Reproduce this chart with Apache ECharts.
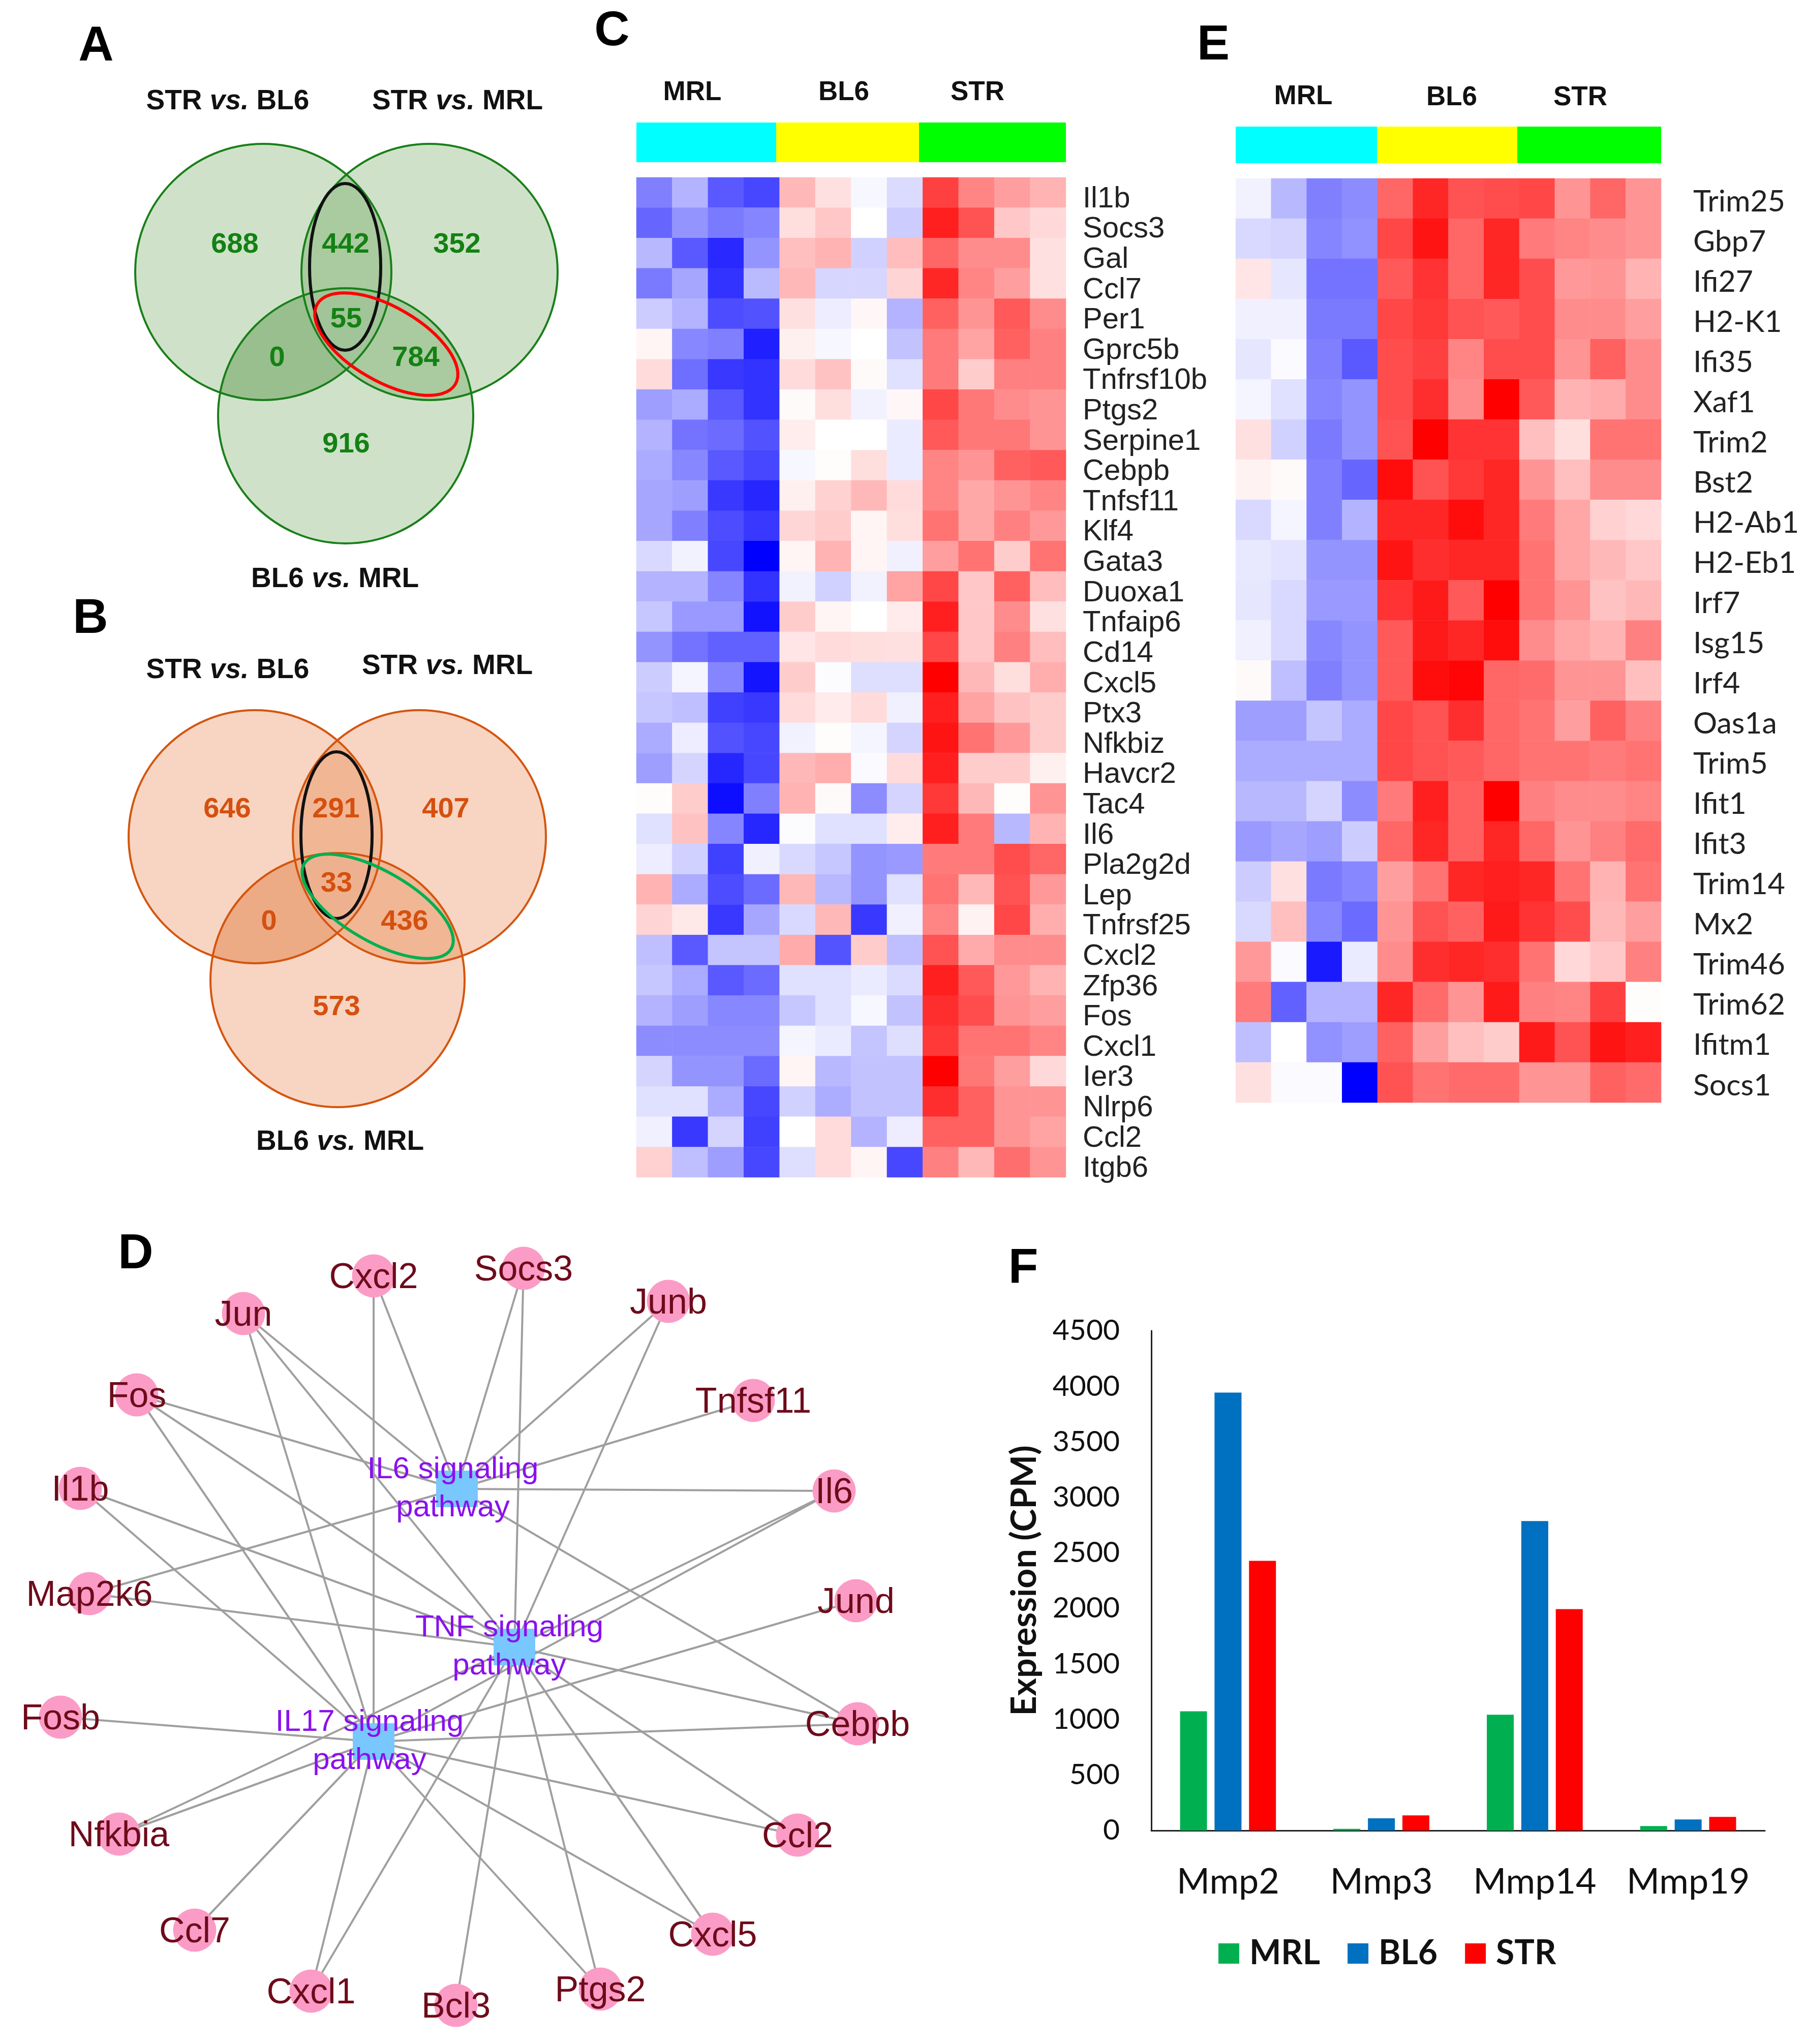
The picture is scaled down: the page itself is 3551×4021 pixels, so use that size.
<!DOCTYPE html>
<html><head><meta charset="utf-8">
<style>html,body{margin:0;padding:0;background:#fff}#c{width:3551px;height:4021px}</style>
<script src="https://cdn.jsdelivr.net/npm/echarts@6/dist/echarts.min.js"></script>
</head><body><div id="c"></div>
<script>
// ---------- Heatmap C ----------
const cGenes = ['Il1b','Socs3','Gal','Ccl7','Per1','Gprc5b','Tnfrsf10b','Ptgs2','Serpine1','Cebpb','Tnfsf11','Klf4','Gata3','Duoxa1','Tnfaip6','Cd14','Cxcl5','Ptx3','Nfkbiz','Havcr2','Tac4','Il6','Pla2g2d','Lep','Tnfrsf25','Cxcl2','Zfp36','Fos','Cxcl1','Ier3','Nlrp6','Ccl2','Itgb6'];
const cValues = [
[-50,-30,-65,-72,28,12,-3,-14,75,48,38,30],
[-60,-42,-52,-48,13,22,0,-20,88,68,22,15],
[-28,-65,-84,-42,25,30,-18,26,60,45,45,12],
[-52,-35,-80,-27,28,-16,-16,17,85,48,38,12],
[-20,-30,-70,-68,12,-7,3,-30,62,42,65,45],
[4,-47,-50,-88,6,-3,0,-24,52,36,62,50],
[14,-57,-78,-80,14,24,2,-12,52,20,50,50],
[-38,-33,-65,-80,2,13,-5,3,72,53,45,42],
[-30,-55,-58,-68,7,0,0,-8,65,53,53,42],
[-33,-47,-65,-72,-3,1,13,-8,48,42,62,65],
[-35,-38,-78,-85,6,18,28,14,48,34,42,48],
[-35,-50,-70,-78,16,20,4,13,55,34,50,40],
[-15,-5,-72,-100,4,30,4,-6,38,55,20,55],
[-30,-30,-48,-80,-5,-18,-5,36,72,22,62,26],
[-22,-40,-40,-93,20,4,0,8,88,22,45,12],
[-42,-55,-62,-62,10,14,13,12,72,22,50,26],
[-20,-4,-48,-92,20,-1,-13,-13,100,28,13,32],
[-22,-25,-75,-78,14,8,14,-6,88,36,24,20],
[-33,-7,-68,-72,-5,1,-4,-17,92,55,40,20],
[-38,-17,-85,-72,28,32,-2,14,88,20,20,6],
[1,20,-95,-50,30,2,-45,-17,78,28,1,42],
[-12,24,-48,-85,-1,-12,-12,7,88,52,-28,30],
[-7,-18,-75,-6,-15,-22,-42,-40,52,52,70,60],
[30,-33,-70,-58,28,-28,-42,-12,55,28,68,40],
[17,9,-78,-35,-15,28,-78,-6,48,5,72,32],
[-25,-65,-23,-23,33,-67,20,-25,68,33,45,45],
[-22,-33,-65,-58,-12,-12,-8,-14,88,65,40,30],
[-30,-38,-47,-47,-22,-12,-3,-24,82,70,42,38],
[-45,-45,-45,-45,-4,-8,-23,-13,78,55,55,48],
[-17,-42,-42,-58,4,-28,-24,-24,100,53,38,15],
[-12,-12,-33,-72,-18,-32,-24,-24,82,62,42,42],
[-6,-78,-17,-75,0,14,-30,-7,62,62,42,36],
[18,-25,-38,-72,-13,14,4,-72,50,28,57,42]];
// ---------- Heatmap E ----------
const eGenes = ['Trim25','Gbp7','Ifi27','H2-K1','Ifi35','Xaf1','Trim2','Bst2','H2-Ab1','H2-Eb1','Irf7','Isg15','Irf4','Oas1a','Trim5','Ifit1','Ifit3','Trim14','Mx2','Trim46','Trim62','Ifitm1','Socs1'];
const eValues = [
[-5,-28,-50,-45,60,85,68,70,72,42,60,42],
[-15,-17,-48,-43,72,92,60,85,52,48,45,42],
[10,-10,-55,-55,65,80,60,85,70,40,42,30],
[-6,-6,-52,-52,72,78,68,65,70,45,45,38],
[-10,-2,-50,-65,70,75,48,70,70,42,62,45],
[-4,-12,-48,-42,70,82,45,100,65,30,33,45],
[12,-18,-52,-42,68,100,80,80,25,13,55,55],
[5,2,-50,-60,95,68,78,85,42,25,45,45],
[-15,-4,-50,-30,85,85,95,85,52,35,18,15],
[-9,-11,-42,-42,92,82,85,85,55,35,28,22],
[-10,-15,-40,-40,80,90,65,100,55,42,24,28],
[-6,-15,-47,-42,65,90,85,95,45,35,30,50],
[2,-25,-50,-42,65,95,98,60,58,42,42,25],
[-38,-38,-23,-33,72,68,82,60,55,38,62,50],
[-33,-33,-33,-33,72,68,65,60,55,55,52,55],
[-28,-28,-17,-45,52,88,62,100,50,45,45,48],
[-40,-35,-38,-20,60,85,62,85,60,42,50,58],
[-20,12,-52,-47,38,55,85,88,85,55,30,55],
[-15,25,-47,-58,42,68,62,90,80,70,28,38],
[40,-2,-90,-8,45,82,85,82,55,15,22,50],
[52,-62,-30,-30,85,58,42,90,50,48,75,1],
[-25,0,-43,-38,62,38,25,20,90,68,92,88],
[12,-2,-2,-100,68,55,58,58,42,42,62,58]];
const sampleIds = ['MRL1','MRL2','MRL3','MRL4','BL61','BL62','BL63','BL64','STR1','STR2','STR3','STR4'];
// ---------- Venn counts ----------
const vennACounts = ['688','442','352','55','0','784','916'];
const vennBCounts = ['646','291','407','33','0','436','573'];
// ---------- Network ----------
const geneNodes = ['Jun','Cxcl2','Socs3','Junb','Tnfsf11','Il6','Jund','Cebpb','Ccl2','Cxcl5','Ptgs2','Bcl3','Cxcl1','Ccl7','Nfkbia','Fosb','Map2k6','Il1b','Fos'];
const hubNodes = ['IL6 signaling\npathway','TNF signaling\npathway','IL17 signaling\npathway'];
const il6Genes = ['Jun','Cxcl2','Socs3','Junb','Tnfsf11','Il6','Cebpb','Map2k6','Fos'];
const tnfGenes = ['Jun','Socs3','Junb','Il6','Cebpb','Ccl2','Cxcl5','Ptgs2','Bcl3','Cxcl1','Nfkbia','Map2k6','Il1b','Fos'];
const il17Genes = ['Jun','Cxcl2','Il6','Jund','Cebpb','Ccl2','Cxcl5','Ptgs2','Cxcl1','Ccl7','Nfkbia','Fosb','Il1b','Fos'];
// ---------- Bars F ----------
const mmpGenes = ['Mmp2','Mmp3','Mmp14','Mmp19'];
const mrlExpr = [1073,15,1043,40];
const bl6Expr = [3944,110,2787,100];
const strExpr = [2428,136,1994,123];

// ---------- Layout (page pixels) ----------
const nodeXY = {Jun:[479,2584],Cxcl2:[735,2510],Socs3:[1030,2495],Junb:[1315,2560],Tnfsf11:[1482,2755],Il6:[1641,2933],Jund:[1684,3149],Cebpb:[1687,3391],Ccl2:[1569,3610],Cxcl5:[1402,3805],Ptgs2:[1181,3913],Bcl3:[897,3945],Cxcl1:[612,3917],Ccl7:[383,3797],Nfkbia:[234,3608],Fosb:[119,3378],Map2k6:[176,3135],Il1b:[158,2928],Fos:[269,2744]};
const hubXY = [[899,2929],[1012,3240],[735,3426]];
const hubLabelOffset = [[-8,0],[-10,0],[-8,0]];
const vennALayout = {circles:[[518,535,252],[845,535,252],[680,818,251]], oval1:[679,525,70,164,0], oval2:[760,677,157,73,-30],
  counts:[[462,478],[680,478],[899,478],[681,625],[545,701],[818,701],[681,871]]};
const vennBLayout = {circles:[[502,1646,249],[825,1646,249],[664,1928,250]], oval1:[662,1643,70,164,0], oval2:[743,1783,167,69,-30],
  counts:[[447,1589],[661,1589],[877,1589],[662,1735],[529,1810],[796,1810],[662,1978]]};

const SANS = '"Liberation Sans", Arial, sans-serif';
const LATO = 'Lato, sans-serif';
const TEXT_DY = 4;

function vennSeries(layout, fill, stroke, oval2Color, darkOverlay) {
  const circ = layout.circles;
  // kind: 0 fill, 1 lighten the triple overlap, 2 darken left-and-bottom overlap, 3 circle outline, 4 black oval, 5 coloured oval
  const items = [...circ.map(c => [c[0],c[1],c[2],c[2],0,0]),
                 [0,0,0,0,0,2], [0,0,0,0,0,1],
                 ...circ.map(c => [c[0],c[1],c[2],c[2],0,3]),
                 [...layout.oval1,4], [...layout.oval2,5]];
  return {type:'custom', coordinateSystem:'cartesian2d', xAxisIndex:0, yAxisIndex:0, silent:true, z:3,
    encode:{x:0,y:1}, data:items, clip:false,
    renderItem(p, api){
      const kind = api.value(5);
      const disc = c => { const o = api.coord([c[0],c[1]]); return {cx:o[0],cy:o[1],r:api.size([c[2],c[2]])[0]}; };
      if (kind === 1) {
        return {type:'group', clipPath:{type:'circle', shape:disc(circ[0])}, children:[
          {type:'circle', shape:disc(circ[1]), clipPath:{type:'circle', shape:disc(circ[2])}, style:{fill:'rgba(255,255,255,0.27)'}}]};
      }
      if (kind === 2) {
        return {type:'group', clipPath:{type:'circle', shape:disc(circ[0])}, children:[
          {type:'circle', shape:disc(circ[2]), style:{fill:darkOverlay}}]};
      }
      const o = api.coord([api.value(0),api.value(1)]);
      const s = api.size([api.value(2),api.value(3)]);
      return {type:'ellipse', x:o[0], y:o[1], rotation:api.value(4)*Math.PI/180,
        shape:{cx:0,cy:0,rx:s[0],ry:s[1]},
        style: kind===0 ? {fill:fill, stroke:null}
             : kind===3 ? {fill:'none', stroke:stroke, lineWidth:4}
             : {fill:'none', stroke: kind===4?'#111':oval2Color, lineWidth:6}};
    }};
}

const chart = echarts.init(document.getElementById('c'), null, {renderer:'canvas', width:3551, height:4021, devicePixelRatio:1});

function hm(list){const d=[];list.forEach((r,y)=>r.forEach((v,x)=>d.push([x,y,v])));return d;}

const textItems = [];
function T(x,y,text,size,color,bold,font){
  textItems.push({value:[x,y+TEXT_DY], label:{show:true, position:'inside', formatter:text, fontSize:size, color:color, fontWeight:bold?'bold':'normal', fontFamily:font||SANS, align:'center', verticalAlign:'middle'}});
}
function vs(x,y,l,r){
  textItems.push({value:[x,y+TEXT_DY], label:{show:true, position:'inside', align:'center', verticalAlign:'middle',
    formatter:'{b|'+l+' }{i|vs.}{b| '+r+'}',
    rich:{b:{fontSize:55,fontWeight:'bold',fontFamily:SANS,color:'#111'}, i:{fontSize:55,fontWeight:'bold',fontStyle:'italic',fontFamily:SANS,color:'#111'}}}});
}
[['A',189,89],['B',178,1215],['C',1204,59],['D',267,2465],['E',2387,87],['F',2013,2493]].forEach(l=>T(l[1],l[2],l[0],96,'#000',true));
vs(448,196,'STR','BL6'); vs(900,196,'STR','MRL'); vs(659,1136,'BL6','MRL');
vs(448,1315,'STR','BL6'); vs(880,1307,'STR','MRL'); vs(669,2243,'BL6','MRL');
vennACounts.forEach((t,i)=>T(vennALayout.counts[i][0],vennALayout.counts[i][1],t,56,'#138113',true));
vennBCounts.forEach((t,i)=>T(vennBLayout.counts[i][0],vennBLayout.counts[i][1],t,56,'#d5500f',true));
[['MRL',1362,178],['BL6',1660,178],['STR',1923,178],['MRL',2564,186],['BL6',2856,188],['STR',3109,188]].forEach(l=>T(l[1],l[2],l[0],53,'#111',true));

// condition colour strips
const stripData = [[1252,1527,241,319,0],[1527,1808,241,319,1],[1808,2097,241,319,2],
                   [2431,2709,249,321,0],[2709,2985,249,321,1],[2985,3268,249,321,2]];
const stripColors = ['#00ffff','#ffff00','#00ff00'];

// network
const nodes = [
  ...geneNodes.map(n=>({name:n, value:nodeXY[n], symbol:'circle', symbolSize:85, itemStyle:{color:'#fb9cc6'},
     label:{show:true, position:'inside', offset:[0,5], formatter:n, fontSize:70, fontFamily:SANS, color:'#6e0b1b'}})),
  ...hubNodes.map((n,i)=>({name:n, value:hubXY[i], symbol:'rect', symbolSize:[82,72], itemStyle:{color:'#79c7ff'},
     label:{show:true, position:'inside', offset:hubLabelOffset[i], formatter:n, fontSize:60, lineHeight:75, fontFamily:SANS, color:'#8a10ee'}}))
];
const links = [];
il6Genes.forEach(g=>links.push({source:g,target:hubNodes[0]}));
tnfGenes.forEach(g=>links.push({source:g,target:hubNodes[1]}));
il17Genes.forEach(g=>links.push({source:g,target:hubNodes[2]}));

const hidden = {show:false};
const option = {
  animation:false, backgroundColor:'#fff',
  grid:[
    {left:0, top:0, width:3551, height:4021},
    {left:1252, top:349, width:845, height:1967},
    {left:2431, top:351, width:837, height:1818},
    {left:2265, top:2618, width:1207, height:983}
  ],
  xAxis:[
    {gridIndex:0, type:'value', min:0, max:3551, ...hidden},
    {gridIndex:1, type:'category', data:sampleIds, axisLine:hidden, axisTick:hidden, axisLabel:hidden, splitLine:hidden},
    {gridIndex:2, type:'category', data:sampleIds, axisLine:hidden, axisTick:hidden, axisLabel:hidden, splitLine:hidden},
    {gridIndex:3, type:'category', data:mmpGenes, axisLine:{lineStyle:{color:'#222',width:3}}, axisTick:hidden,
      axisLabel:{fontSize:70, fontFamily:LATO, color:'#111', margin:66, interval:0, hideOverlap:false}}
  ],
  yAxis:[
    {gridIndex:0, type:'value', min:0, max:4021, inverse:true, ...hidden},
    {gridIndex:1, type:'category', data:cGenes, inverse:true, position:'right', axisLine:hidden, axisTick:hidden, splitLine:hidden,
      axisLabel:{fontSize:58, fontFamily:SANS, color:'#222', margin:33, interval:0, verticalAlign:'top', lineHeight:26}},
    {gridIndex:2, type:'category', data:eGenes, inverse:true, position:'right', axisLine:hidden, axisTick:hidden, splitLine:hidden,
      axisLabel:{fontSize:59, fontFamily:LATO, color:'#222', margin:63, interval:0, verticalAlign:'top', lineHeight:12}},
    {gridIndex:3, type:'value', min:0, max:4500, interval:500, axisLine:{show:true,lineStyle:{color:'#222',width:3}}, axisTick:hidden, splitLine:hidden,
      axisLabel:{fontSize:57, fontFamily:LATO, color:'#111', margin:62, formatter:v=>String(v)},
      name:'Expression (CPM)', nameLocation:'middle', nameRotate:90, nameGap:215,
      nameTextStyle:{fontSize:68, fontWeight:'bold', fontFamily:LATO, color:'#111'}}
  ],
  visualMap:{show:false, type:'continuous', min:-100, max:100, dimension:2, seriesIndex:[0,1], inRange:{color:['#0000ff','#ffffff','#ff0000']}},
  legend:{left:2392, top:3805, itemWidth:41, itemHeight:40, itemGap:54, icon:'rect', data:['MRL','BL6','STR'],
    textStyle:{fontSize:66, fontWeight:'bold', fontFamily:LATO, color:'#111', padding:[0,0,0,15]}},
  series:[
    {type:'heatmap', xAxisIndex:1, yAxisIndex:1, data:hm(cValues), silent:true, progressive:0},
    {type:'heatmap', xAxisIndex:2, yAxisIndex:2, data:hm(eValues), silent:true, progressive:0},
    {type:'custom', coordinateSystem:'cartesian2d', xAxisIndex:0, yAxisIndex:0, silent:true, encode:{x:0,y:2}, data:stripData, clip:false,
      renderItem(p,api){
        const a=api.coord([api.value(0),api.value(2)]), b=api.coord([api.value(1),api.value(3)]);
        return {type:'rect', shape:{x:a[0],y:a[1],width:b[0]-a[0],height:b[1]-a[1]}, style:{fill:stripColors[api.value(4)]}};
      }},
    vennSeries(vennALayout,'rgba(37,123,10,0.22)','#1a7f1a','#ff0000','rgba(20,90,10,0.10)'),
    vennSeries(vennBLayout,'rgba(226,92,20,0.26)','#d4550f','#00b050','rgba(200,70,10,0.10)'),
    {type:'graph', coordinateSystem:'cartesian2d', xAxisIndex:0, yAxisIndex:0, layout:'none', silent:true, z:4, data:nodes, links:links,
      lineStyle:{color:'#9f9f9f', width:4, opacity:1}, emphasis:{disabled:true}},
    {name:'MRL', type:'bar', xAxisIndex:3, yAxisIndex:3, data:mrlExpr, barWidth:53, barGap:'28%', itemStyle:{color:'#00b050'}},
    {name:'BL6', type:'bar', xAxisIndex:3, yAxisIndex:3, data:bl6Expr, barWidth:53, barGap:'28%', itemStyle:{color:'#0070c0'}},
    {name:'STR', type:'bar', xAxisIndex:3, yAxisIndex:3, data:strExpr, barWidth:53, barGap:'28%', itemStyle:{color:'#ff0000'}},
    {type:'scatter', xAxisIndex:0, yAxisIndex:0, symbolSize:1, itemStyle:{color:'transparent', opacity:1}, silent:true, z:10, data:textItems}
  ]
};
chart.setOption(option);
</script></body></html>
